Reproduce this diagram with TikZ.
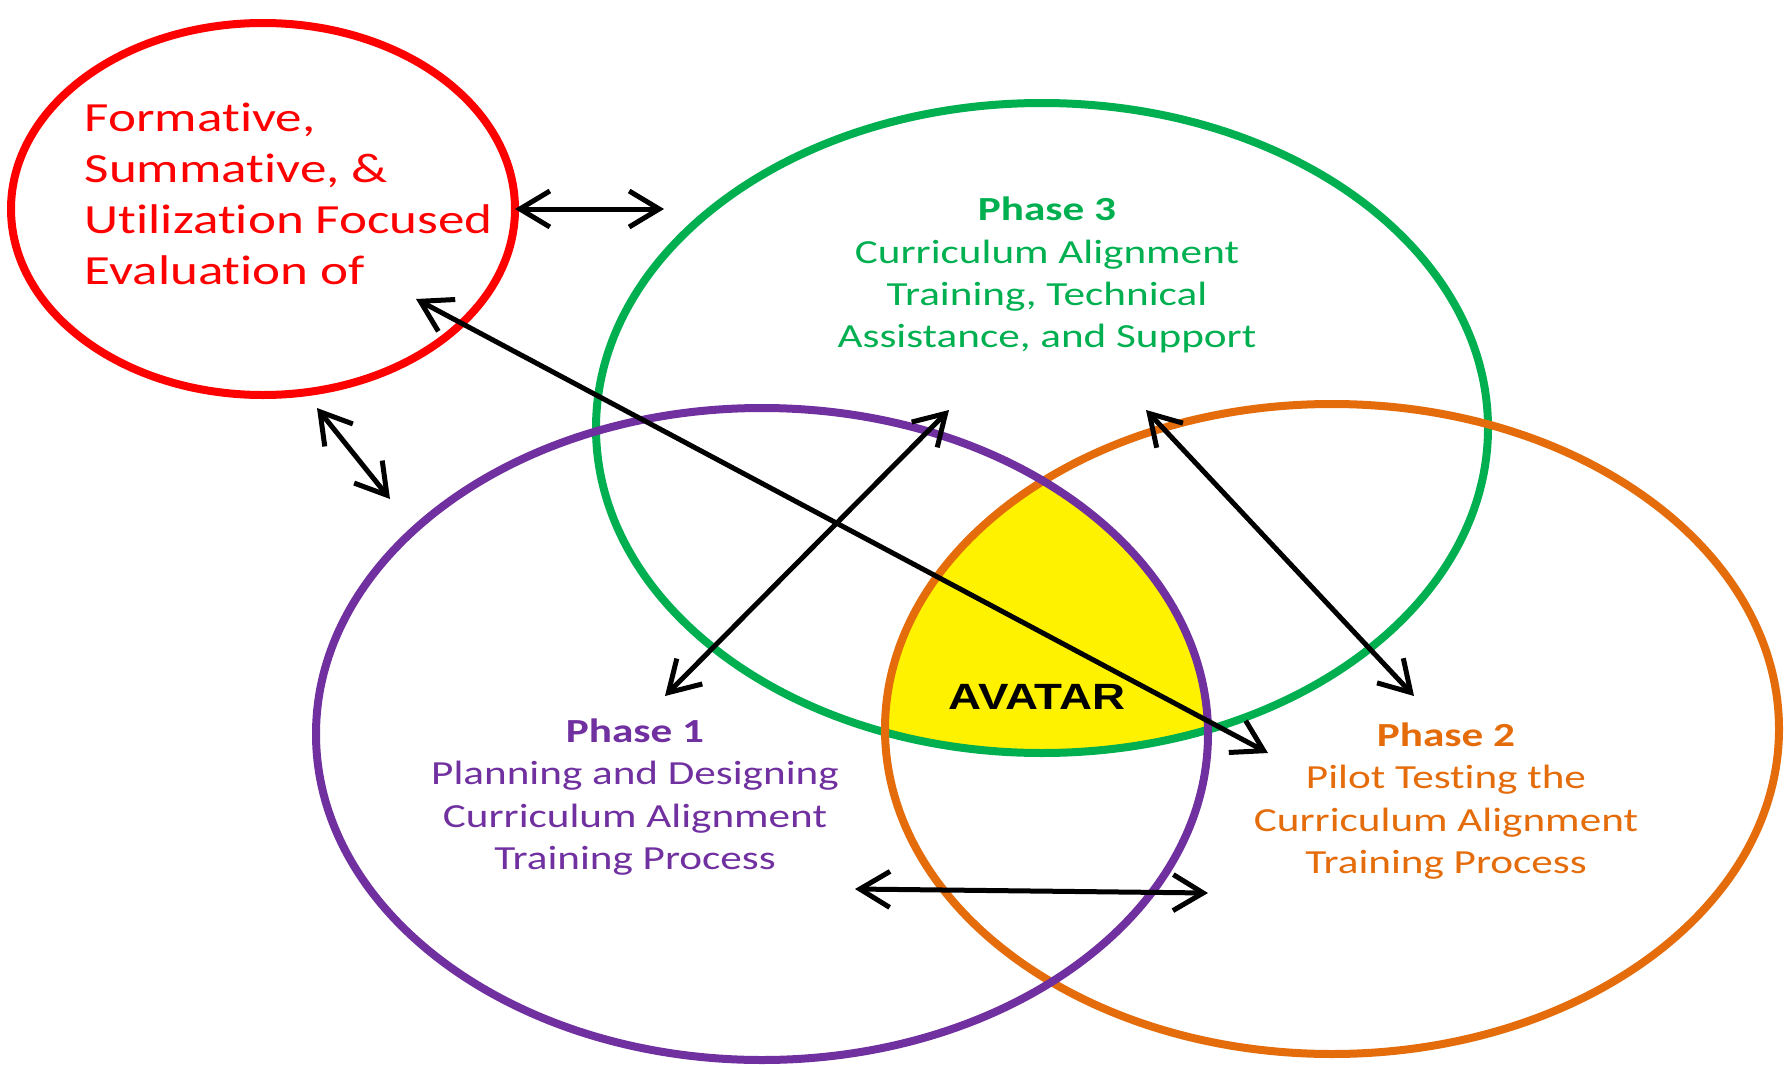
\documentclass[tikz,border=0pt]{standalone}
\usepackage{fontspec}
\usepackage{xcolor}
\usetikzlibrary{positioning}
\usetikzlibrary{arrows.meta}

\newfontfamily\phasefont[FakeStretch=1.28, RawFeature=-liga]{Carlito}
\newfontfamily\avatarfont[FakeStretch=1.25]{Liberation Sans}

\definecolor{evalred}{HTML}{FF0000}
\definecolor{phasegreen}{HTML}{00B050}
\definecolor{phasepurple}{HTML}{7030A0}
\definecolor{phaseorange}{HTML}{E46C0A}

\begin{document}
\begin{tikzpicture}[x=0.1mm, y=-0.1mm,
    ring/.style={line width=0.8mm},
    link/.style={{Straight Barb[length=3mm,width=3.6mm]}-{Straight Barb[length=3mm,width=3.6mm]}, line width=0.5mm, black},
    phasetext/.style={align=center, inner sep=0pt, font=\phasefont\fontsize{9.6}{12}\selectfont}]
\useasboundingbox (0,0) rectangle (1788,1064);

% centres of the four rings
\coordinate (evalC) at (263,209);
\coordinate (p3C) at (1042,428);
\coordinate (p1C) at (762,734);
\coordinate (p2C) at (1332,729);

% AVATAR region
\begin{scope}
\clip (p3C) circle [x radius=446, y radius=325];
\clip (p1C) circle [x radius=446, y radius=326];
\fill[yellow] (p2C) circle [x radius=447, y radius=325];
\end{scope}

\draw[ring, evalred] (evalC) circle [x radius=252, y radius=186];
\draw[ring, phasegreen] (p3C) circle [x radius=446, y radius=325];
\draw[ring, phaseorange] (p2C) circle [x radius=447, y radius=325];
\draw[ring, phasepurple] (p1C) circle [x radius=446, y radius=326];

\node[anchor=west, align=left, inner sep=0pt, text=evalred, font=\phasefont\fontsize{11.8}{14.5}\selectfont] (evaltext) at (84,194)
{Formative,\\Summative, \&\\Utilization Focused\\Evaluation of};

\node[phasetext, text=phasegreen] (phase3) at (1047,275)
{\textbf{Phase 3}\\Curriculum Alignment\\Training, Technical\\Assistance, and Support};
\node[phasetext, text=phasepurple] (phase1) at (635,797)
{\textbf{Phase 1}\\Planning and Designing\\Curriculum Alignment\\Training Process};
\node[phasetext, text=phaseorange] (phase2) at (1446,801)
{\textbf{Phase 2}\\Pilot Testing the\\Curriculum Alignment\\Training Process};

\node[inner sep=0pt, font=\avatarfont\bfseries\fontsize{10.4}{12}\selectfont] (avatar) at (1037,697) {AVATAR};

% arrow ends
\coordinate (a1) at (515,209);
\coordinate (b1) at (664,209);
\coordinate (a2) at (317,408);
\coordinate (b2) at (390,499);
\coordinate (a3) at (416,299);
\coordinate (b3) at (1268,753);
\coordinate (a4) at (949,410);
\coordinate (b4) at (665,696);
\coordinate (a5) at (1146,410);
\coordinate (b5) at (1414,696);
\coordinate (a6) at (855,889);
\coordinate (b6) at (1208,893);

\foreach \i in {1,...,6}
    \draw[link] (a\i) -- (b\i);

\end{tikzpicture}
\end{document}
